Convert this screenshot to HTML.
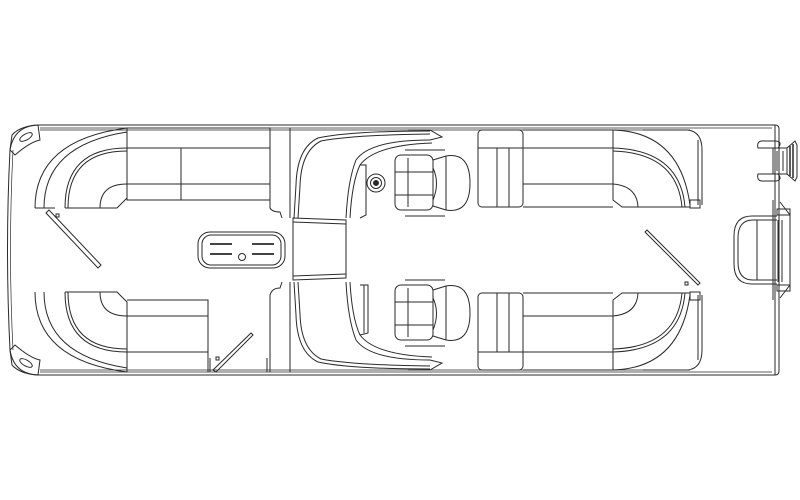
<!DOCTYPE html>
<html><head><meta charset="utf-8"><style>html,body{margin:0;padding:0;background:#fff}svg{display:block}</style></head>
<body>
<svg width="800" height="500" viewBox="0 0 800 500" xmlns="http://www.w3.org/2000/svg" fill="none" stroke="#2a2a2a" stroke-width="1">
<path d="M40 125 L775 125 Q779 125 779 129 L779 371 Q779 375 775 375 L40 375 Q14 375 10 350 Q5 250 10 150 Q14 125 40 125Z"/>
<path d="M40 128 L772 128 M40 372 L772 372" stroke-width="0.7"/>
<path d="M13 150 Q8 250 13 350" stroke-width="0.7"/>
<path d="M40 130 L690 130 M40 370 L690 370" stroke-width="0.7"/>
<path d="M10 150 L12 135 Q20 126 38 125 L40 140 Q30 142 15 155 Z"/>
<path d="M10 350 L12 365 Q20 374 38 375 L40 360 Q30 358 15 345 Z"/>
<ellipse cx="26" cy="137" rx="7" ry="3" transform="rotate(-30 26 137)"/>
<ellipse cx="26" cy="363" rx="7" ry="3" transform="rotate(30 26 363)"/>
<path d="M35 208 Q35 140 127 128"/>
<path d="M44 208 Q44 145 127 132"/>
<path d="M65 208 Q65 148 127 148 M68 208 Q68 151 127 151"/>
<path d="M100 208 Q100 184 127 184"/>
<path d="M35 208 L55 208"/>
<path d="M65 208 L117 208 L127 198 L127 128"/>
<rect x="127" y="128" width="143" height="72"/>
<path d="M127 148 L270 148 M127 184 L270 184 M181 148 L181 200"/>
<path d="M35 292 Q35 360 127 372"/>
<path d="M44 292 Q44 355 127 368"/>
<path d="M65 292 Q65 352 127 352 M68 292 Q68 349 127 349"/>
<path d="M100 292 Q100 316 127 316"/>
<path d="M65 292 L117 292 L127 302 L127 372"/>
<path d="M127 300 L208 300 L208 372 M127 316 L208 316 M127 352 L208 352"/>
<path d="M46 213 L98 268 L101 265 L49 210 Z"/>
<rect x="56" y="214" width="3" height="3"/>
<path d="M213 370 L251 333 L253 335 L216 372 Z"/>
<rect x="216" y="357" width="3" height="3"/>
<path d="M210 358 L210 372 M267 358 L267 372"/>
<path d="M645 232 L698 285 L700 283 L647 230 Z"/>
<rect x="685" y="282" width="3" height="3"/>
<rect x="198" y="232" width="87" height="36" rx="12"/>
<rect x="202" y="235" width="79" height="30" rx="9"/>
<path d="M210 244 L232 244 M252 244 L274 244 M210 254 L232 254 M252 254 L274 254" stroke-width="1.8"/>
<circle cx="242" cy="257" r="3.5"/>
<path d="M270 128 L270 208 Q272 212 280 212 L282 218 M290 128 L290 218"/>
<path d="M270 372 L270 295 Q272 288 280 288 L282 282 M290 372 L290 282"/>
<path d="M293 218 L346 220 L346 278 L293 280 Z"/>
<path d="M293 222 L346 224 M293 276 L346 274"/>
<path d="M430 131 Q350 131 318 138 Q297 148 296 185 L294 218"/>
<path d="M430 134 Q352 135 321 141 Q301 151 300 186 L298 218"/>
<path d="M430 140 Q370 140 356 160 Q348 180 346 218"/>
<path d="M432 143 Q375 145 360 165 Q352 182 350 218"/>
<path d="M430 369 Q350 369 318 362 Q297 352 296 315 L294 282"/>
<path d="M430 366 Q352 365 321 359 Q301 349 300 314 L298 282"/>
<path d="M430 360 Q370 360 356 340 Q348 320 346 282"/>
<path d="M432 357 Q375 355 360 335 Q352 318 350 282"/>
<path d="M408 130 L430 130 L442 137 L430 140 M408 370 L430 370 L442 363 L430 360"/>
<path d="M360 165 L366 165 L366 215 L360 218"/>
<circle cx="376" cy="183" r="9"/><circle cx="376" cy="183" r="5.5"/><circle cx="376" cy="183" r="2.5" fill="#2a2a2a"/>
<path d="M360 285 L368 285 L368 333 L360 335 M364 285 L364 333"/>
<g id="seat">
<rect x="395" y="155" width="38" height="55" rx="6"/>
<path d="M408 158 L408 207 M395 172 L433 172 M395 195 L433 195"/>
<path d="M433 160 L446 156 Q470 152 470 183 Q470 214 446 210 L433 206"/>
<path d="M446 156 L446 210 M433 168 Q440 183 433 200"/>
<path d="M405 150 L445 150 M405 216 L445 216"/>
</g>
<use href="#seat" transform="translate(0 130)"/>
<rect x="478" y="130" width="45" height="77" rx="4"/>
<path d="M478 148 L523 148 M497 148 L497 207 M509 148 L509 207"/>
<path d="M523 130 L613 130 L613 200 L622 207 L690 207 M523 148 L613 148 M523 184 L613 184 M523 207 L613 207"/>
<path d="M613 148 Q680 150 685 207 M613 151 Q677 153 682 207 M613 184 Q637 186 638 207"/>
<path d="M613 130 Q680 132 690 205 M643 130 L688 130 Q702 132 702 150 L702 205 M698 140 L698 205"/>
<rect x="690" y="200" width="10" height="8"/>
<rect x="478" y="293" width="45" height="77" rx="4"/>
<path d="M478 352 L523 352 M497 293 L497 352 M509 293 L509 352"/>
<path d="M523 370 L613 370 L613 300 L622 293 L690 293 M523 352 L613 352 M523 316 L613 316 M523 293 L613 293"/>
<path d="M613 352 Q680 350 685 293 M613 349 Q677 347 682 293 M613 316 Q637 314 638 293"/>
<path d="M613 370 Q680 368 690 295 M643 370 L688 370 Q702 368 702 350 L702 295 M698 360 L698 295"/>
<rect x="690" y="292" width="10" height="8"/>
<path d="M775 125 L775 375 M773 200 L773 300"/>
<path d="M780 202 L790 215 L790 285 L780 298"/>
<rect x="777" y="209" width="13" height="6"/><rect x="777" y="285" width="13" height="6"/>
<path d="M778 220 L778 282 M782 220 L782 282"/>
<path d="M777 216 L752 216 Q734 216 734 236 L734 264 Q734 284 752 284 L777 284"/>
<path d="M777 220 L753 220 Q738 220 738 238 L738 262 Q738 280 753 280 L777 280"/>
<path d="M757 220 L757 280"/>
<path d="M758 148 Q756 140 765 141 L776 141 Q783 142 778 148 L768 148 Q762 148 758 148Z"/>
<path d="M758 174 Q756 182 765 181 L776 181 Q783 180 778 174 L768 174 Q762 174 758 174Z"/>
<rect x="773" y="148" width="14" height="26"/>
<path d="M777 151 L777 171 M783 151 L783 171"/>
<path d="M787 148 L795 141 L797 145 L797 177 L795 181 L787 174 Z"/>
<path d="M790 146 L790 176 M793 144 L793 178" stroke-width="1.5"/>
</svg>
</body></html>
